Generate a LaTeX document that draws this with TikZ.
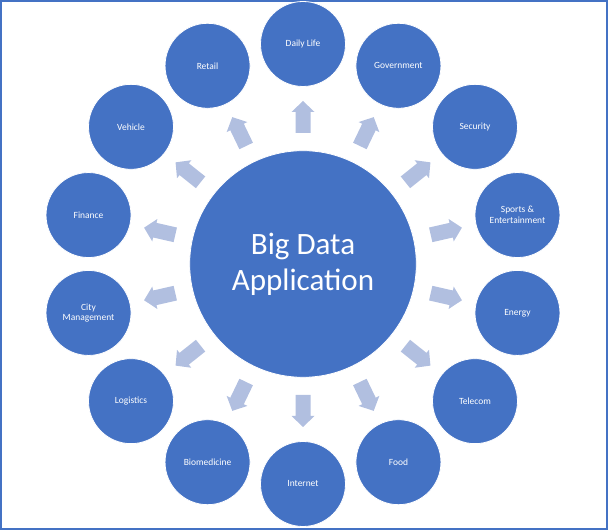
\documentclass[tikz,border=0pt]{standalone}
\usepackage{fontspec}
\setmainfont{Carlito}
\usetikzlibrary{calc}
\definecolor{cfill}{HTML}{4472C4}
\definecolor{afill}{HTML}{B1BFE0}
\begin{document}
\begin{tikzpicture}[x=0.75pt,y=0.75pt,
  outer/.style={circle, fill=cfill, draw=white, line width=0.6pt, minimum size=63.75pt, inner sep=0pt, text=white, align=center, font=\fontsize{7.1}{7.9}\selectfont},
  hubstyle/.style={circle, fill=cfill, draw=white, line width=0.6pt, minimum size=170pt, inner sep=0pt, text=white, align=center, font=\fontsize{23.3}{27}\selectfont},
  blockarrow/.style={fill=afill}]
\useasboundingbox (0,0) rectangle (608,530);
\draw[cfill, line width=1.5pt] (1,1) rectangle (607,529);
\coordinate (C) at (303,266);
\node[hubstyle] (hub) at (C) {Big Data\\Application};
\foreach \k/\t in {0/{Daily Life}, 1/{Government}, 2/{Security}, 3/{Sports \&\\Entertainment}, 4/{Energy}, 5/{Telecom}, 6/{Food}, 7/{Internet}, 8/{Biomedicine}, 9/{Logistics}, 10/{City\\Management}, 11/{Finance}, 12/{Vehicle}, 13/{Retail}} {
  \node[outer] (o\k) at ($(C)+({90-\k*360/14}:220)$) {\t};
  \begin{scope}[shift={(C)}, rotate={90-\k*360/14}]
    \fill[blockarrow] (131,-7.5) -- (152,-7.5) -- (152,-11.5) -- (163,0) -- (152,11.5) -- (152,7.5) -- (131,7.5) -- cycle;
  \end{scope}
}
\end{tikzpicture}
\end{document}
